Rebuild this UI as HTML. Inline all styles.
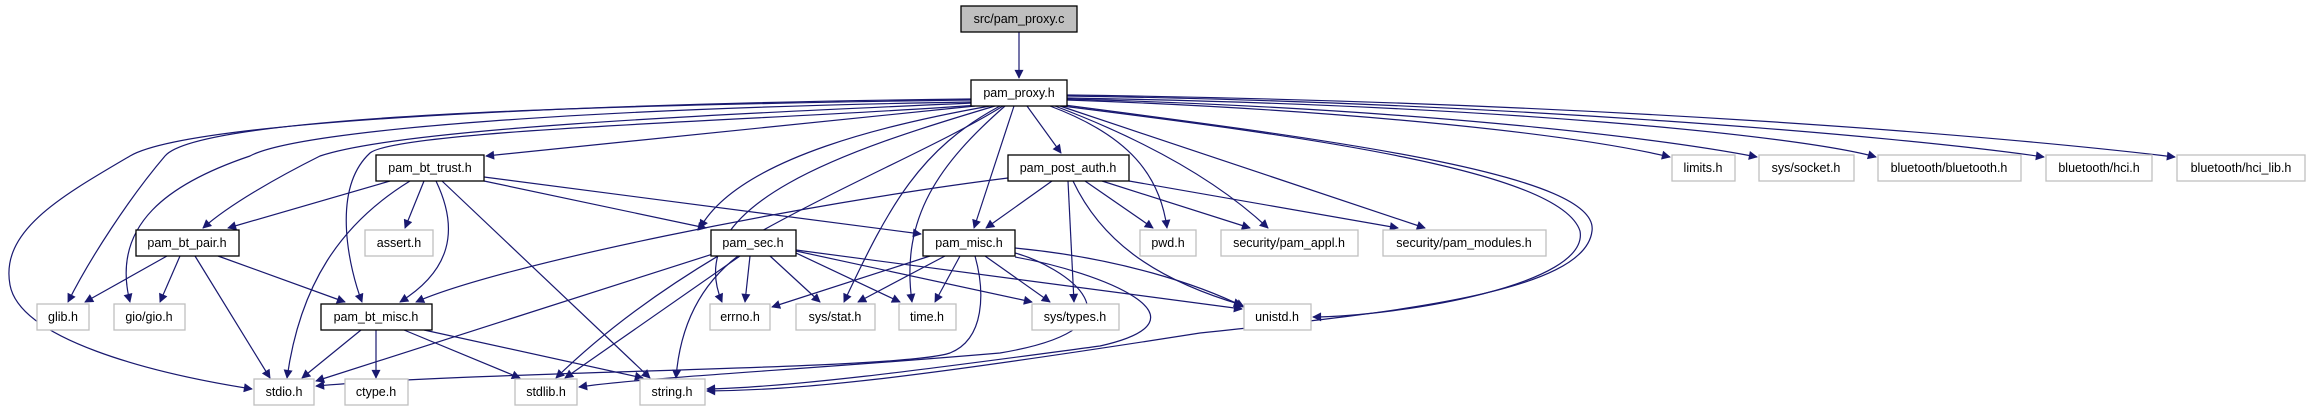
<!DOCTYPE html>
<html><head><meta charset="utf-8"><style>
html,body{margin:0;padding:0;background:#fff;}
svg{display:block}
text{font-family:"Liberation Sans",sans-serif;font-size:12.5px;fill:#000;text-anchor:middle}
.e{fill:none;stroke:#191970;stroke-width:1.2}
.n{fill:#fff;stroke:#000;stroke-width:1.3}
.x{fill:#fff;stroke:#bfbfbf;stroke-width:1.3}
</style></head><body>
<svg width="2308" height="411" viewBox="0 0 2308 411" xmlns="http://www.w3.org/2000/svg">
<defs><marker id="a" viewBox="0 0 10 10" refX="9" refY="5" markerWidth="10" markerHeight="9" markerUnits="userSpaceOnUse" orient="auto"><path d="M0,0 L10,5 L0,10 z" fill="#191970"/></marker></defs>
<g class="e" marker-end="url(#a)">
<path d="M1019,32 L1019,78"/>
<!-- pam_proxy.h -->
<path d="M971,99 C700,102 200,115 130,156 C60,197 0,231 10,285 C20,339 150,373 252,389"/>
<path d="M971,100 C600,105 200,115 165,156 C130,197 90,258 68,302"/>
<path d="M971,102 C600,108 300,129 250,156 C170,183 110,224 130,302"/>
<path d="M973,103 C700,115 400,129 320,156 C280,176 230,204 203,228"/>
<path d="M978,105 C800,119 400,129 370,153 C330,190 350,271 362,302"/>
<path d="M975,106 L486,156"/>
<path d="M990,106 C900,122 740,156 700,228"/>
<path d="M995,106 C850,149 680,204 722,302"/>
<path d="M1003,106 C900,170 700,237 556,378"/>
<path d="M1000,106 C920,149 890,204 844,302"/>
<path d="M1005,106 C940,163 900,217 912,302"/>
<path d="M1014,106 L974,228"/>
<path d="M1027,106 L1061,153"/>
<path d="M1050,106 C1130,136 1160,176 1167,228"/>
<path d="M1055,106 C1150,142 1220,183 1268,228"/>
<path d="M1060,106 L1425,228"/>
<path d="M1062,106 C1300,136 1560,170 1580,231 C1590,285 1400,316 1313,317"/>
<path d="M1064,105 C1350,142 1600,176 1592,231 C1585,292 1400,312 1200,333 C900,380 800,390 707,391"/>
<path d="M1067,100 C1300,108 1550,129 1670,157"/>
<path d="M1067,99 C1400,108 1650,136 1757,157"/>
<path d="M1067,98 C1500,105 1800,136 1876,157"/>
<path d="M1067,96 C1500,102 1900,136 2044,157"/>
<path d="M1067,95 C1600,102 2000,136 2175,157"/>
<!-- pam_bt_trust.h -->
<path d="M390,181 L228,228"/>
<path d="M410,181 C340,224 300,285 287,378"/>
<path d="M424,181 L405,228"/>
<path d="M436,181 C460,231 450,271 400,302"/>
<path d="M442,181 L650,378"/>
<path d="M484,181 L706,228"/>
<path d="M484,177 L921,234"/>
<!-- pam_bt_pair.h -->
<path d="M167,256 L85,302"/>
<path d="M180,256 L160,302"/>
<path d="M195,256 L270,378"/>
<path d="M218,256 L345,302"/>
<!-- pam_bt_misc.h -->
<path d="M361,330 L302,378"/>
<path d="M376,330 L376,378"/>
<path d="M404,330 L520,378"/>
<path d="M424,330 L643,378"/>
<!-- pam_sec.h -->
<path d="M716,253 L316,381"/>
<path d="M740,256 L565,378"/>
<path d="M738,256 C700,285 680,326 676,378"/>
<path d="M750,256 L745,302"/>
<path d="M770,256 L820,302"/>
<path d="M796,253 L900,302"/>
<path d="M796,251 L1032,302"/>
<path d="M796,250 L1242,309"/>
<!-- pam_post_auth.h -->
<path d="M1008,178 C800,204 500,265 416,302"/>
<path d="M1052,181 L986,228"/>
<path d="M1068,181 L1074,302"/>
<path d="M1085,181 L1153,228"/>
<path d="M1102,181 L1250,228"/>
<path d="M1129,181 L1398,228"/>
<path d="M1073,181 C1100,238 1150,278 1242,305"/>
<!-- pam_misc.h -->
<path d="M930,256 L772,307"/>
<path d="M945,256 L858,302"/>
<path d="M960,256 L935,302"/>
<path d="M985,256 L1050,302"/>
<path d="M1015,248 C1120,258 1200,285 1244,307"/>
<path d="M975,256 C985,292 985,339 950,353 C900,370 500,370 316,386"/>
<path d="M1015,253 C1060,265 1160,326 1000,353 C800,370 650,377 579,387"/>
<path d="M1015,257 C1100,272 1220,319 1100,346 C950,366 800,387 707,389"/>
</g>
<!-- nodes -->
<rect x="961" y="6" width="116" height="26" fill="#bfbfbf" stroke="#000" stroke-width="1.3"/><text x="1019" y="23">src/pam_proxy.c</text>
<rect class="n" x="971" y="80" width="96" height="26"/><text x="1019" y="97">pam_proxy.h</text>
<rect class="n" x="376" y="155" width="108" height="26"/><text x="430" y="172">pam_bt_trust.h</text>
<rect class="n" x="1008" y="155" width="121" height="26"/><text x="1068" y="172">pam_post_auth.h</text>
<rect class="x" x="1672" y="155" width="63" height="26"/><text x="1703" y="172">limits.h</text>
<rect class="x" x="1759" y="155" width="95" height="26"/><text x="1806" y="172">sys/socket.h</text>
<rect class="x" x="1878" y="155" width="143" height="26"/><text x="1949" y="172">bluetooth/bluetooth.h</text>
<rect class="x" x="2046" y="155" width="106" height="26"/><text x="2099" y="172">bluetooth/hci.h</text>
<rect class="x" x="2177" y="155" width="128" height="26"/><text x="2241" y="172">bluetooth/hci_lib.h</text>
<rect class="n" x="136" y="230" width="103" height="26"/><text x="187" y="247">pam_bt_pair.h</text>
<rect class="x" x="365" y="230" width="68" height="26"/><text x="399" y="247">assert.h</text>
<rect class="n" x="711" y="230" width="85" height="26"/><text x="753" y="247">pam_sec.h</text>
<rect class="n" x="923" y="230" width="92" height="26"/><text x="969" y="247">pam_misc.h</text>
<rect class="x" x="1140" y="230" width="56" height="26"/><text x="1168" y="247">pwd.h</text>
<rect class="x" x="1221" y="230" width="137" height="26"/><text x="1289" y="247">security/pam_appl.h</text>
<rect class="x" x="1383" y="230" width="163" height="26"/><text x="1464" y="247">security/pam_modules.h</text>
<rect class="x" x="37" y="304" width="52" height="26"/><text x="63" y="321">glib.h</text>
<rect class="x" x="114" y="304" width="71" height="26"/><text x="149" y="321">gio/gio.h</text>
<rect class="n" x="321" y="304" width="111" height="26"/><text x="376" y="321">pam_bt_misc.h</text>
<rect class="x" x="710" y="304" width="60" height="26"/><text x="740" y="321">errno.h</text>
<rect class="x" x="796" y="304" width="79" height="26"/><text x="835" y="321">sys/stat.h</text>
<rect class="x" x="899" y="304" width="57" height="26"/><text x="927" y="321">time.h</text>
<rect class="x" x="1032" y="304" width="87" height="26"/><text x="1075" y="321">sys/types.h</text>
<rect class="x" x="1244" y="304" width="67" height="26"/><text x="1277" y="321">unistd.h</text>
<rect class="x" x="254" y="379" width="60" height="26"/><text x="284" y="396">stdio.h</text>
<rect class="x" x="345" y="379" width="63" height="26"/><text x="376" y="396">ctype.h</text>
<rect class="x" x="515" y="379" width="62" height="26"/><text x="546" y="396">stdlib.h</text>
<rect class="x" x="640" y="379" width="65" height="26"/><text x="672" y="396">string.h</text>
</svg>
</body></html>
